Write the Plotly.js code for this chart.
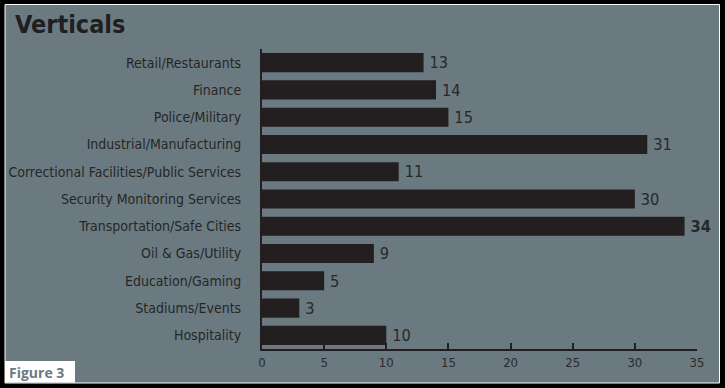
<!DOCTYPE html>
<html><head><meta charset="utf-8">
<script src="https://cdn.plot.ly/plotly-3.0.1.min.js"></script>
<style>html,body{margin:0;padding:0;background:#000;}#chart{width:725px;height:388px;}</style>
</head><body><div id="chart"></div>
<script>
const categories = ["Retail/Restaurants","Finance","Police/Military","Industrial/Manufacturing","Correctional Facilities/Public Services","Security Monitoring Services","Transportation/Safe Cities","Oil & Gas/Utility","Education/Gaming","Stadiums/Events","Hospitality"];
const values = [13,14,15,31,11,30,34,9,5,3,10];
const xTicks = [0,5,10,15,20,25,30,35];

const W = 725, H = 388, L = 262, R = 28, T = 49, B = 39;
const pw = W - L - R, ph = H - T - B;
const px = x => (x - L) / pw;
const py = y => (H - B - y) / ph;

const narrow = "'DejaVu Sans Condensed','Liberation Sans Narrow',Arial,sans-serif";
const maxV = Math.max(...values);
const text = values.map(v => v === maxV ? '\u2009<b>' + v + '</b>' : '\u2009' + v);

Plotly.newPlot('chart', [{
  type: 'bar', orientation: 'h',
  y: categories, x: values,
  text: text, textposition: 'outside', cliponaxis: false,
  textfont: {family: narrow, size: 17, color: '#282828'},
  marker: {color: '#231f20'},
  width: 0.7, hoverinfo: 'none'
}], {
  width: W, height: H,
  margin: {l: L, r: R, t: T, b: B, pad: 0},
  paper_bgcolor: '#000', plot_bgcolor: 'rgba(0,0,0,0)',
  showlegend: false,
  xaxis: {range: [0, 35], tickvals: xTicks, ticks: 'inside', ticklen: 6, tickwidth: 2,
    tickcolor: '#231f20', showline: true, linecolor: '#231f20', linewidth: 2,
    showgrid: false, zeroline: false, fixedrange: true,
    tickfont: {family: narrow, size: 13, color: '#2a2a2a'}},
  yaxis: {autorange: 'reversed', showline: true, linecolor: '#231f20', linewidth: 2,
    ticks: '', showgrid: false, ticklabelstandoff: 16, fixedrange: true,
    tickfont: {family: narrow, size: 14, color: '#262626'}},
  shapes: [
    {type: 'rect', xref: 'paper', yref: 'paper', layer: 'below',
     x0: px(5), x1: px(719.5), y0: py(383), y1: py(4.5),
     fillcolor: '#6b7a81', line: {color: '#ffffff', width: 1}},
    {type: 'rect', xref: 'paper', yref: 'paper', layer: 'below',
     x0: px(5), x1: px(75), y0: py(382.5), y1: py(361),
     fillcolor: '#ffffff', line: {width: 0}}
  ],
  annotations: [
    {xref: 'paper', yref: 'paper', x: px(13), y: py(25), xanchor: 'left', yanchor: 'middle',
     text: '<b>Verticals</b>', showarrow: false,
     font: {family: narrow, size: 25, color: '#1f1f22'}},
    {xref: 'paper', yref: 'paper', x: px(7), y: py(372.5), xanchor: 'left', yanchor: 'middle',
     text: '<b>Figure 3</b>', showarrow: false,
     font: {family: "'Open Sans',sans-serif", size: 14, color: '#6b7a81'}}
  ]
}, {staticPlot: true});
</script></body></html>
